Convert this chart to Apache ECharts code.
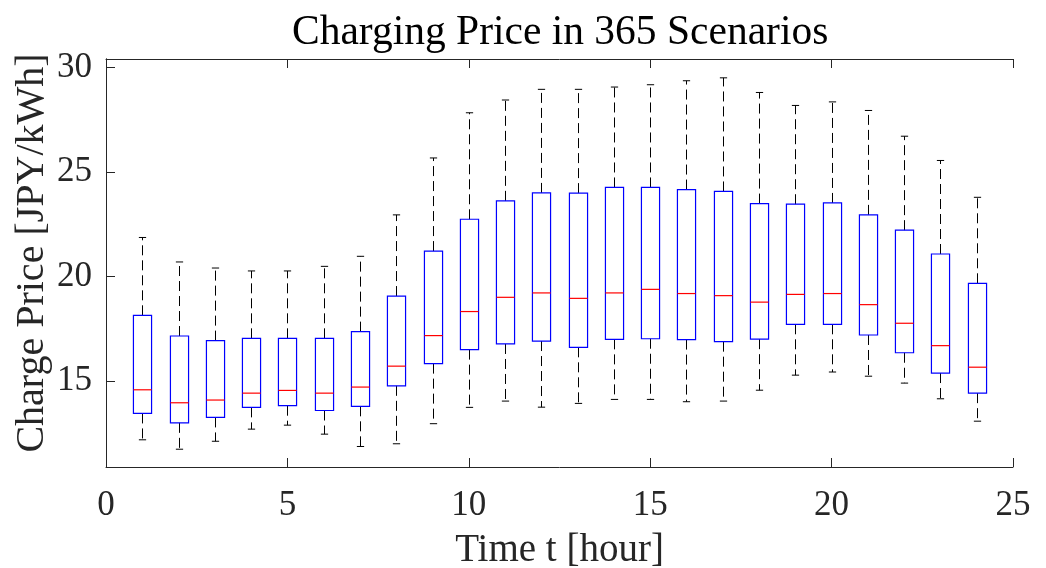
<!DOCTYPE html>
<html>
<head>
<meta charset="utf-8">
<script src="https://cdn.jsdelivr.net/npm/echarts@6/dist/echarts.min.js"></script>
<style>
  html, body { margin: 0; padding: 0; background: #fff; }
  #myChart { width: 1046px; height: 568px; }
</style>
</head>
<body>
<div id="myChart"></div>
<script>
  // hours 1..24, box statistics
  let hours = [1,2,3,4,5,6,7,8,9,10,11,12,13,14,15,16,17,18,19,20,21,22,23,24];
  let whiskerHigh = [21.87,20.70,20.41,20.27,20.27,20.49,20.97,22.95,25.67,27.83,28.44,28.95,28.95,29.06,29.17,29.36,29.50,28.80,28.18,28.35,27.94,26.71,25.55,23.79];
  let q3 = [18.15,17.16,16.94,17.05,17.05,17.05,17.37,19.07,21.22,22.74,23.62,24.00,23.99,24.26,24.26,24.16,24.07,23.49,23.46,23.52,22.95,22.22,21.08,19.68];
  let median = [14.59,13.97,14.10,14.43,14.56,14.43,14.72,15.72,17.18,18.33,19.01,19.22,18.96,19.22,19.39,19.19,19.09,18.78,19.15,19.19,18.66,17.77,16.70,15.67];
  let q1 = [13.46,13.01,13.27,13.75,13.83,13.60,13.80,14.78,15.84,16.51,16.78,16.92,16.62,17.00,17.03,16.99,16.89,17.01,17.72,17.72,17.21,16.36,15.39,14.43];
  let whiskerLow = [12.20,11.75,12.13,12.71,12.90,12.47,11.88,12.01,12.97,13.75,14.05,13.76,13.94,14.13,14.13,14.02,14.05,14.57,15.29,15.44,15.24,14.91,14.16,13.09];
  let yTicks = [15,20,25,30];

  let font = 'Liberation Serif, Times New Roman, serif';
  let axisColor = '#262626';

  let boxData = hours.map(function (h, i) {
    return [h, whiskerLow[i], q1[i], median[i], q3[i], whiskerHigh[i]];
  });

  function renderBox(params, api) {
    let x = api.value(0);
    let pLow = api.coord([x, api.value(1)]);
    let pQ1 = api.coord([x, api.value(2)]);
    let pMed = api.coord([x, api.value(3)]);
    let pQ3 = api.coord([x, api.value(4)]);
    let pHigh = api.coord([x, api.value(5)]);
    let unit = api.size([1, 0])[0];
    let hw = unit * 0.25;
    let cw = unit * 0.1;
    let cx = Math.round(pMed[0]) + 0.5;
    let dash = { stroke: '#000', lineWidth: 1, lineDash: [10, 5] };
    let solid = { stroke: '#000', lineWidth: 1 };
    return {
      type: 'group',
      children: [
        { type: 'line', shape: { x1: cx, y1: pQ3[1], x2: cx, y2: pHigh[1] }, style: dash },
        { type: 'line', shape: { x1: cx, y1: pQ1[1], x2: cx, y2: pLow[1] }, style: dash },
        { type: 'line', shape: { x1: cx - cw, y1: pHigh[1], x2: cx + cw, y2: pHigh[1] }, style: solid },
        { type: 'line', shape: { x1: cx - cw, y1: pLow[1], x2: cx + cw, y2: pLow[1] }, style: solid },
        { type: 'rect', shape: { x: cx - hw, y: pQ3[1], width: hw * 2, height: pQ1[1] - pQ3[1] },
          style: { fill: null, stroke: '#0000ff', lineWidth: 1.2 } },
        { type: 'line', shape: { x1: cx - hw, y1: pMed[1], x2: cx + hw, y2: pMed[1] },
          style: { stroke: '#ff0000', lineWidth: 1.2 } }
      ]
    };
  }

  let myChart = echarts.init(document.getElementById('myChart'));
  let options = {
    animation: false,
    title: {
      text: 'Charging Price in 365 Scenarios',
      left: 287,
      top: 7,
      textStyle: { fontFamily: font, fontSize: 41.5, fontWeight: 'normal', color: '#000' }
    },
    grid: { left: 106, right: 33, top: 59, bottom: 101, outerBoundsMode: 'none' },
    xAxis: [{
      type: 'value',
      min: 0,
      max: 25,
      interval: 5,
      name: 'Time t [hour]',
      nameLocation: 'middle',
      nameGap: 64,
      nameTextStyle: { fontFamily: font, fontSize: 39, color: axisColor },
      axisLine: { show: true, lineStyle: { color: axisColor, width: 1 } },
      axisTick: { show: true, inside: true, length: 9, lineStyle: { color: axisColor } },
      axisLabel: { fontFamily: font, fontSize: 35, color: axisColor, margin: 21 },
      splitLine: { show: false }
    }, {
      type: 'value',
      position: 'top',
      min: 0,
      max: 25,
      interval: 5,
      axisLine: { show: true, lineStyle: { color: axisColor, width: 1 } },
      axisTick: { show: true, inside: true, length: 9, lineStyle: { color: axisColor } },
      axisLabel: { show: false },
      splitLine: { show: false }
    }],
    yAxis: [{
      type: 'value',
      min: 10.9,
      max: 30.4,
      name: 'Charge Price [JPY/kWh]',
      nameLocation: 'middle',
      nameGap: 54,
      nameMoveOverlap: false,
      nameTextStyle: { fontFamily: font, fontSize: 40, color: axisColor, padding: [0, 0, 0, 20] },
      axisLine: { show: true, lineStyle: { color: axisColor, width: 1 } },
      // customValues ticks ignore "inside", a negative length turns them inward
      axisTick: { show: true, length: -9, customValues: yTicks, lineStyle: { color: axisColor } },
      axisLabel: { fontFamily: font, fontSize: 35, color: axisColor, margin: 14, customValues: yTicks },
      splitLine: { show: false }
    }, {
      type: 'value',
      position: 'right',
      min: 10.9,
      max: 30.4,
      axisLine: { show: true, lineStyle: { color: axisColor, width: 1 } },
      axisTick: { show: false },
      axisLabel: { show: false },
      splitLine: { show: false }
    }],
    series: [{
      name: 'price',
      type: 'custom',
      xAxisIndex: 0,
      yAxisIndex: 0,
      renderItem: renderBox,
      encode: { x: 0, y: [1, 2, 3, 4, 5] },
      data: boxData
    }]
  };
  myChart.setOption(options);
</script>
</body>
</html>
